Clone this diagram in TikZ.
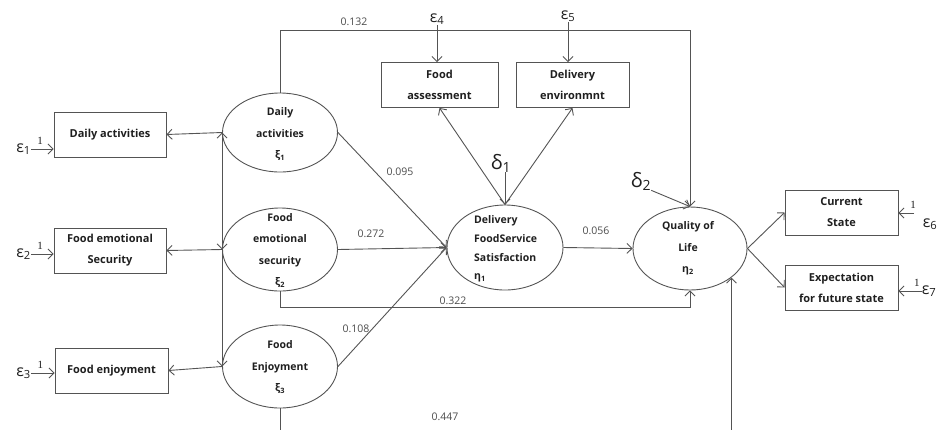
\documentclass[tikz,border=0pt]{standalone}
\usepackage{fontspec}
\setmainfont{Open Sans}
\newfontfamily\onefont{Liberation Serif}
\usetikzlibrary{
  arrows.meta,
  shapes.geometric,
  positioning
}
\definecolor{lineGray}{rgb}{0.33,0.33,0.33}
\definecolor{textDark}{rgb}{0.12,0.12,0.12}
\definecolor{coefGray}{rgb}{0.3,0.3,0.3}
\tikzset{
  obs/.style={
    draw=lineGray,
    line width=0.9pt,
    inner sep=0pt,
    minimum width=112pt,
    minimum height=45pt,
    align=center,
    text=textDark,
    font=\fontsize{11}{21}\selectfont\bfseries
  },
  latent/.style={
    ellipse,
    draw=lineGray,
    line width=0.9pt,
    inner sep=0pt
  }
}

\begin{document}
\begin{tikzpicture}[
      x=1pt, y=-1pt,
      >={Straight Barb[length=5pt,width=10pt]},
      conn/.style={draw=lineGray, line width=0.9pt},
      ltext/.style={
        align=center,
        inner sep=0pt,
        text=textDark,
        font=\fontsize{10.5}{21.5}\selectfont\bfseries
      },
      coef/.style={inner sep=0pt, text=coefGray, font=\fontsize{10.5}{12}\selectfont},
      err/.style={inner sep=0pt, text=textDark, font=\fontsize{16}{16}\selectfont},
      one/.style={inner sep=0pt, text=textDark, font=\onefont\fontsize{11}{11}\selectfont}
      ]

      \useasboundingbox (0,0) rectangle (939,429);
      \clip (0,0) rectangle (939,429);

      % observed variables
      \node[obs] (da) at (110,134.5) {Daily activities};
      \node[obs] (fes) at (110,250.5) {Food emotional\\Security};
      \node[obs, minimum width=113pt] (fe) at (111.5,370.5) {Food enjoyment};
      \node[obs, minimum width=117pt] (fa) at (439.5,85) {Food\\assessment};
      \node[obs, minimum width=113pt] (den) at (572.5,85) {Delivery\\environmnt};
      \node[obs, minimum width=113pt] (cs) at (841.5,212.5) {Current\\State};
      \node[obs, minimum width=113pt] (eff) at (841.5,287.5) {Expectation\\for future state};

      % latent variables
      \node[latent, minimum width=115pt, minimum height=79pt] (xi1) at (280,132.5) {};
      \node[latent, minimum width=115pt, minimum height=83pt] (xi2) at (280,249.5) {};
      \node[latent, minimum width=115pt, minimum height=83pt] (xi3) at (280,366.5) {};
      \node[latent, minimum width=116pt, minimum height=85pt] (eta1) at (505,247.5) {};
      \node[latent, minimum width=114pt, minimum height=83pt] (eta2) at (690,248.5) {};

      \node[ltext] (xi1t) at (280,134) {Daily\\activities\\ξ\textsubscript{1}};
      \node[ltext] (xi2t) at (280,250.5) {Food\\emotional\\security\\ξ\textsubscript{2}};
      \node[ltext] (xi3t) at (280,367) {Food\\Enjoyment\\ξ\textsubscript{3}};
      \node[ltext, align=left, anchor=west, font=\fontsize{10.5}{18.7}\selectfont\bfseries]
        (eta1t) at (474,249) {Delivery\\FoodService\\Satisfaction\\η\textsubscript{1}};
      \node[ltext] (eta2t) at (688,248.5) {Quality of\\Life\\η\textsubscript{2}};

      % errors
      \foreach \i/\b/\y in {1/da/149, 2/fes/254, 3/fe/373}{
        \node[err, anchor=east] (e\i) at (31,\y) {ε\textsubscript{\i}};
        \draw[conn,->] (e\i.east) -- (\b.west |- e\i.east)
          node[one, pos=0.4, above=4.5pt] {1};
      }
      \node[err] (e4) at (437,19) {ε\textsubscript{4}};
      \node[err] (e5) at (568,16) {ε\textsubscript{5}};
      \node[err] (e6) at (930,224) {ε\textsubscript{6}};
      \node[err] (e7) at (929,291) {ε\textsubscript{7}};
      \coordinate (e6a) at (914,213);
      \draw[conn,->] (e4) -- (e4 |- fa.north);
      \draw[conn,->] (e5.south) -- (e5.south |- den.north);
      \draw[conn,->] (e6a) -- (cs.east |- e6a) node[one, pos=0.05, above=4.5pt] {1};
      \draw[conn,->] (e7.west) -- (eff.east |- e7.west) node[one, pos=0.2, above=4.5pt] {1};

      \node[err, font=\fontsize{20}{20}\selectfont] (d1) at (501,163) {δ\textsubscript{1}};
      \node[err, font=\fontsize{20}{20}\selectfont] (d2) at (641,181) {δ\textsubscript{2}};
      \draw[conn,->] (eta1.north |- d1.south) -- (eta1.north);
      \draw[conn,->] (d2.south east) -- (eta2.north);

      % covariances
      \draw[conn,<->] (xi1.west) -- (xi3.west);
      \draw[conn,->] (xi1.west) -- (xi2.west);
      \draw[conn,->] (xi1.west) -- (da.east);
      \draw[conn,->] (xi2.west) -- (fes.east);
      \draw[conn,->] (xi3.west) -- (fe.east);

      % paths
      \coordinate (toprail) at (0,30);
      \coordinate (midrail) at (0,307);
      \coordinate (botrail) at (0,445);
      \draw[conn,->] (xi1.north) -- (xi1.north |- toprail) -| (eta2.north);
      \draw[conn,->] (xi2.south) -- (xi2.south |- midrail) -| (eta2.south);
      \draw[conn,->] (xi3.south) -- (xi3.south |- botrail) -| (eta2.-35);
      \draw[conn,->] (xi1.east) -- (eta1.west);
      \draw[conn,->] (xi2.east) -- (eta1.west);
      \draw[conn,->] (xi3.east) -- (eta1.west);
      \draw[conn,->] (eta1.north) -- (fa.south);
      \draw[conn,->] (eta1.north) -- (den.south);
      \draw[conn,->] (eta1.east) -- (eta2.west);
      \draw[conn,->] (eta2.east) -- (cs.west);
      \draw[conn,->] (eta2.east) -- (eff.west);

      \node[coef] (c132) at (354,22) {0.132};
      \node[coef] (c095) at (400,172) {0.095};
      \node[coef] (c272) at (371,234) {0.272};
      \node[coef] (c108) at (356,329) {0.108};
      \node[coef] (c322) at (453,301) {0.322};
      \node[coef] (c056) at (596,231) {0.056};
      \node[coef] (c447) at (445,417) {0.447};
    \end{tikzpicture}
\end{document}
